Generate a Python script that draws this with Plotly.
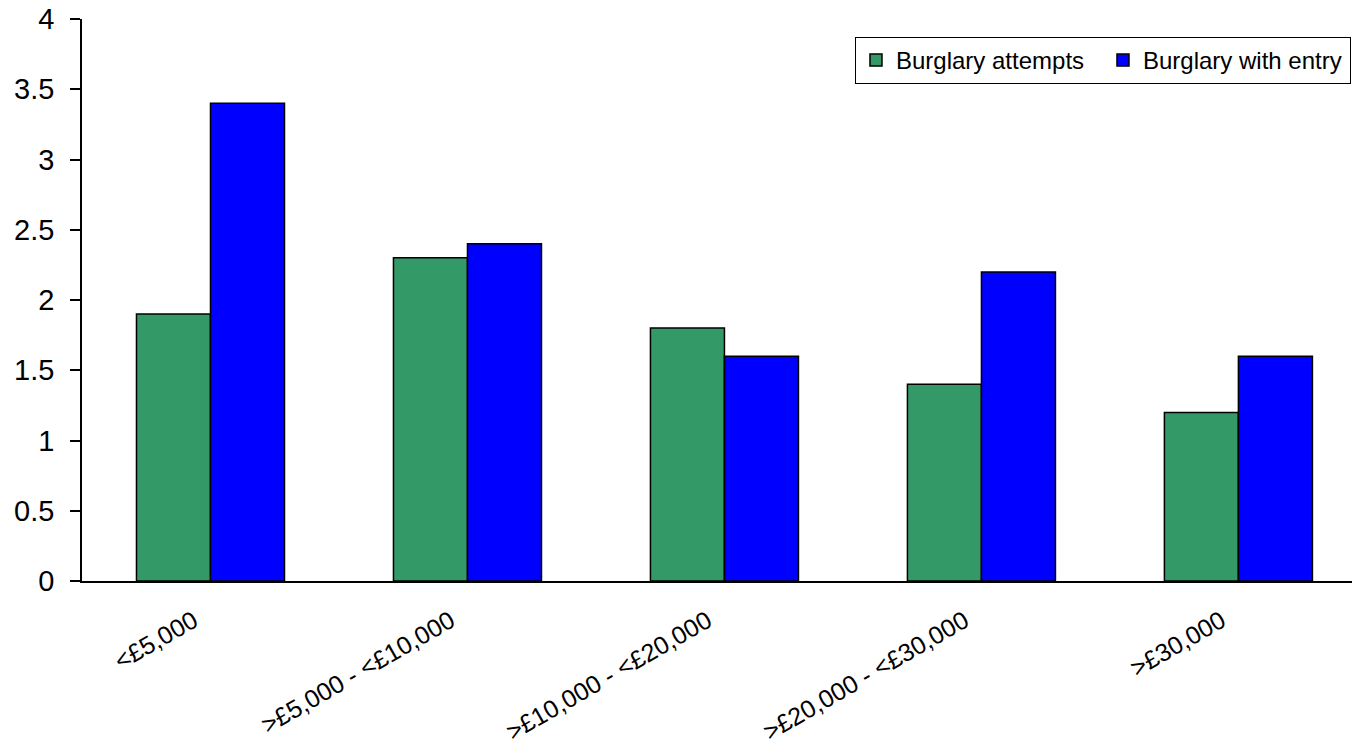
import plotly.graph_objects as go

categories = ["<£5,000", ">£5,000 - <£10,000", ">£10,000 - <£20,000", ">£20,000 - <£30,000", ">£30,000"]
attempts = [1.9, 2.3, 1.8, 1.4, 1.2]
with_entry = [3.4, 2.4, 1.6, 2.2, 1.6]
y_ticks = [0, 0.5, 1, 1.5, 2, 2.5, 3, 3.5, 4]
y_tick_labels = ["0", "0.5", "1", "1.5", "2", "2.5", "3", "3.5", "4"]

FONT = "Liberation Sans, Arial, sans-serif"

fig = go.Figure()
fig.add_trace(go.Bar(x=categories, y=attempts, name="Burglary attempts",
                     marker=dict(color="#339966", line=dict(color="black", width=1.5))))
fig.add_trace(go.Bar(x=categories, y=with_entry, name="Burglary with entry",
                     marker=dict(color="#0000FF", line=dict(color="black", width=1.5))))

fig.update_layout(
    width=1352, height=752,
    margin=dict(l=82, r=0, t=19, b=171, autoexpand=False),
    paper_bgcolor="white", plot_bgcolor="white",
    barmode="group", bargap=0.424, bargroupgap=0,
    font=dict(family=FONT, color="black"),
    showlegend=True,
    legend=dict(orientation="h", x=0.9992, xanchor="right", y=1 - 18 / 562, yanchor="top",
                bordercolor="black", borderwidth=1, bgcolor="white",
                font=dict(size=24, family=FONT, color="black"),
                tracegroupgap=0, entrywidth=202, entrywidthmode="pixels"),
)
fig.update_xaxes(
    range=[-0.5, 4.442], showline=True, linecolor="black", linewidth=1.5,
    ticks="", tickangle=-30, tickfont=dict(size=25, family=FONT, color="black"),
    showgrid=False, zeroline=False, ticklabelshift=-17, ticklabelstandoff=14,
    automargin=False,
)
fig.update_yaxes(
    range=[0, 4], tickvals=y_ticks, ticktext=y_tick_labels,
    showline=True, linecolor="black", linewidth=1.5,
    ticks="outside", ticklen=10, tickwidth=1.5, tickcolor="black",
    tickfont=dict(size=29, family=FONT, color="black"),
    showgrid=False, zeroline=False, ticklabelstandoff=10,
    automargin=False,
)

fig.write_html(
    "out.html",
    config={"displayModeBar": False},
    post_script="document.body.style.margin='0';document.body.style.overflow='hidden';",
)
